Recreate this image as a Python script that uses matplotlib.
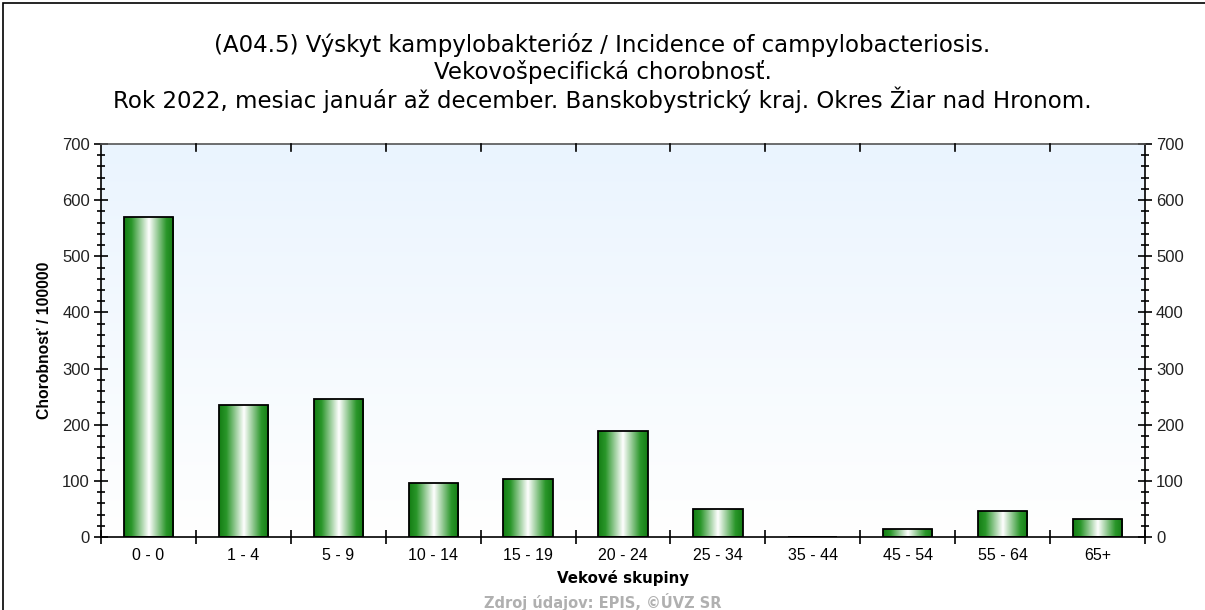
import matplotlib
matplotlib.use("Agg")
import matplotlib.pyplot as plt
import numpy as np
from matplotlib.colors import LinearSegmentedColormap
from matplotlib.patches import Rectangle

plt.rcParams['font.family'] = ['Liberation Sans', 'DejaVu Sans']

categories = ["0 - 0", "1 - 4", "5 - 9", "10 - 14", "15 - 19", "20 - 24",
              "25 - 34", "35 - 44", "45 - 54", "55 - 64", "65+"]
values = [570, 235, 246, 96, 103, 189, 50, 0, 14, 46, 32]

title_lines = ["(A04.5) Výskyt kampylobakterióz / Incidence of campylobacteriosis.",
               "Vekovošpecifická chorobnosť.",
               "Rok 2022, mesiac január až december. Banskobystrický kraj. Okres Žiar nad Hronom."]
ylabel = "Chorobnosť / 100000"
xlabel = "Vekové skupiny"
source = "Zdroj údajov: EPIS, ©ÚVZ SR"

W, H = 1205, 610
fig = plt.figure(figsize=(W / 100, H / 100), dpi=100)
fig.patch.set_facecolor("white")

# outer frame
fig.add_artist(Rectangle((3 / W, -0.01), 1.2, 1 - 3 / H + 0.01, transform=fig.transFigure,
                         fill=False, edgecolor="black", linewidth=1.2))

ax = fig.add_axes([101 / W, 1 - 537 / H, (1145 - 101) / W, (537 - 144) / H])
ax.set_xlim(-0.5, len(categories) - 0.5)
ax.set_ylim(0, 700)

# background gradient
bg = LinearSegmentedColormap.from_list("bg", ["#ffffff", "#eaf4fe"])
grad = np.linspace(0, 1, 256).reshape(-1, 1)
ax.imshow(grad, cmap=bg, aspect="auto", extent=(0, 1, 0, 1), transform=ax.transAxes,
          origin="lower", zorder=0)

# bars with horizontal gradient
barcm = LinearSegmentedColormap.from_list(
    "bar", [(0, "#137d13"), (0.15, "#2a962a"), (0.5, "#ffffff"), (0.85, "#2a962a"), (1, "#137d13")])
hgrad = np.linspace(0, 1, 256).reshape(1, -1)
x = np.arange(len(categories))
bars = ax.bar(x, values, width=0.52, facecolor="none", edgecolor="black", linewidth=1.3, zorder=3)
for b in bars:
    if b.get_height() <= 0:
        continue
    x0, w, h = b.get_x(), b.get_width(), b.get_height()
    im = ax.imshow(hgrad, cmap=barcm, aspect="auto", extent=(x0, x0 + w, 0, h),
                   origin="lower", zorder=2)
    im.set_clip_path(b)

ax.set_xlim(-0.5, len(categories) - 0.5)
ax.set_ylim(0, 700)

# y ticks
ax.set_yticks(np.arange(0, 701, 100))
ax.set_yticks(np.arange(0, 701, 20), minor=True)
ax.tick_params(axis="y", which="major", direction="inout", length=10, width=1.2,
               left=True, right=True, labelleft=True, labelright=True, labelsize=12,
               colors="black", pad=3)
ax.tick_params(axis="y", which="minor", direction="inout", length=6, width=1.2,
               left=True, right=True)
for lab in ax.get_yticklabels():
    lab.set_color("#222222")

# x ticks: boundaries as major, labels as minor at centers
ax.set_xticks(np.arange(-0.5, len(categories), 1.0))
ax.set_xticklabels([])
ax.set_xticks(x, minor=True)
ax.set_xticklabels(categories, minor=True)
ax.tick_params(axis="x", which="major", direction="inout", length=10, width=1.2,
               bottom=True, top=False)
ax.tick_params(axis="x", which="minor", length=0, labelsize=11.5, pad=8)
# top ticks inward
for xb in np.arange(0.5, len(categories) - 0.5, 1.0):
    ax.plot([xb, xb], [700, 700 - 12], color="black", linewidth=1.2, zorder=4, clip_on=False)

for side in ["left", "bottom", "right"]:
    ax.spines[side].set_color("black")
    ax.spines[side].set_linewidth(1.2)
ax.spines["top"].set_color("#555555")
ax.spines["top"].set_linewidth(1.2)

ax.set_ylabel(ylabel, fontsize=11.3, fontweight="bold", labelpad=7)
ax.set_xlabel(xlabel, fontsize=10.8, fontweight="bold", labelpad=5,
              family=["DejaVu Sans"])

ys = [45, 72, 100]
for t, yy in zip(title_lines, ys):
    fig.text(0.5, 1 - yy / H, t, ha="center", va="center", fontsize=16.5,
             family=["DejaVu Sans"])

fig.text(0.5, 1 - 602 / H, source, ha="center", va="center", fontsize=10.5,
         color="#b0b0b0", fontweight="bold", family=["DejaVu Sans"])

fig.savefig("out.png", dpi=100)
